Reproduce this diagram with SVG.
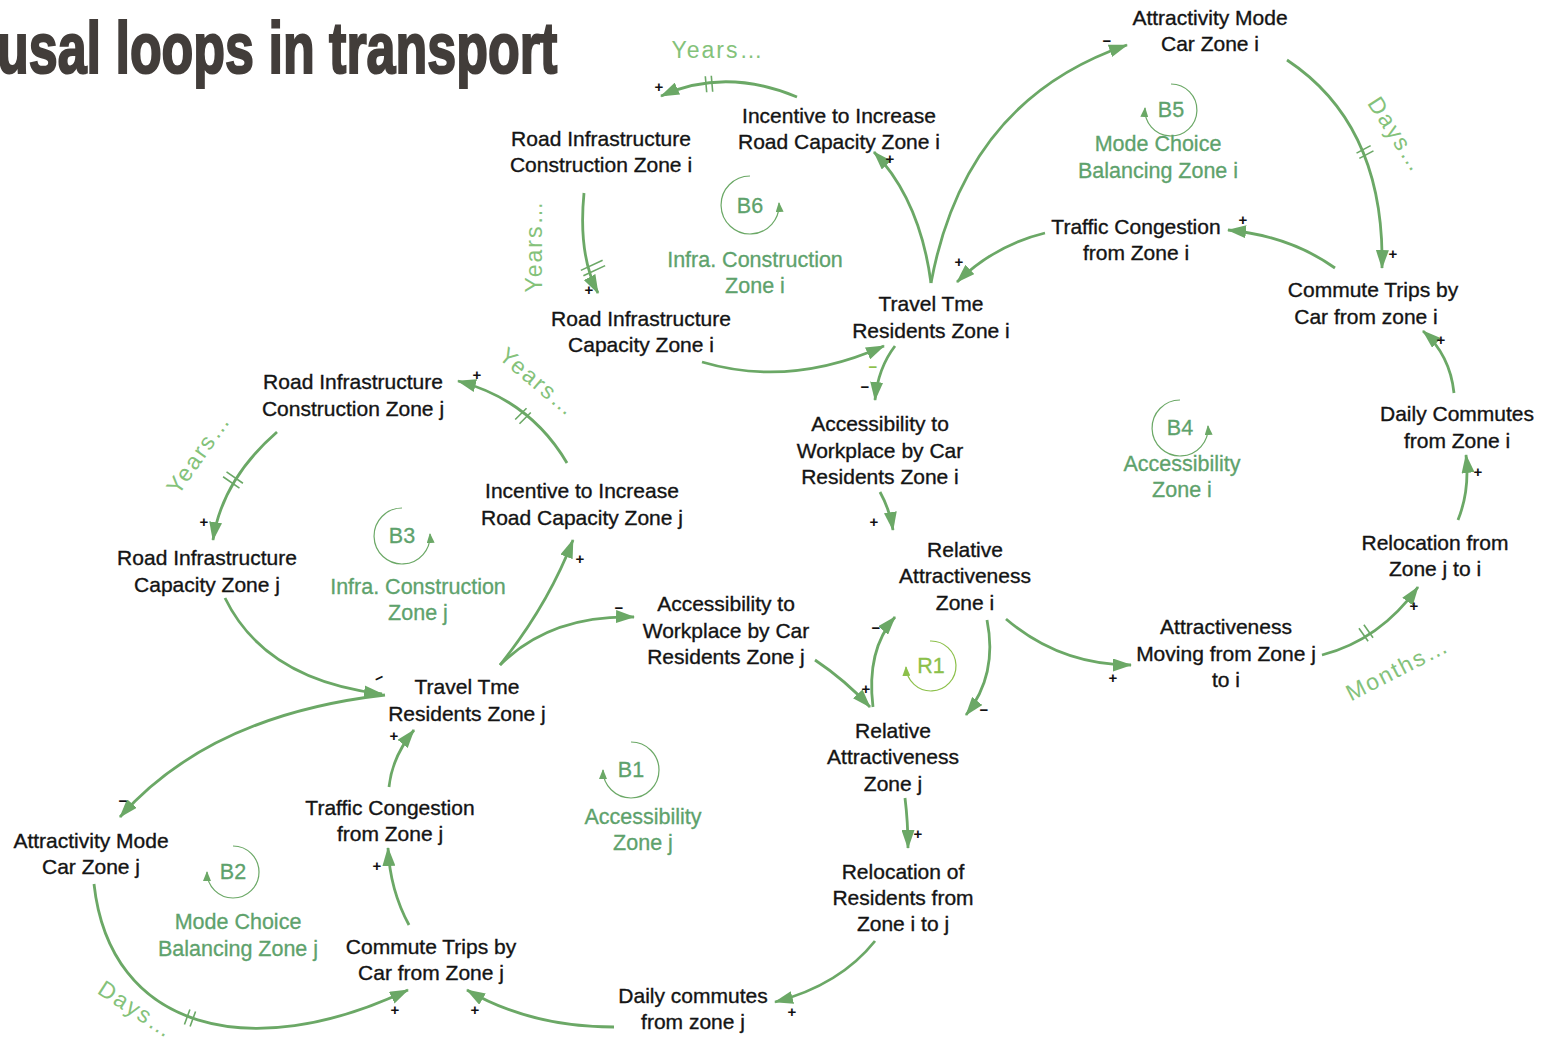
<svg xmlns="http://www.w3.org/2000/svg" width="1553" height="1046" viewBox="0 0 1553 1046">
<style>
.n{font-family:"Liberation Sans",Arial,sans-serif;font-size:21px;fill:#141414;stroke:#141414;stroke-width:0.35;text-anchor:middle}
.lp{font-family:"Liberation Sans",Arial,sans-serif;font-size:21.5px;fill:#5ea26c;stroke:#5ea26c;stroke-width:0.3;text-anchor:middle}
.dl{font-family:"Liberation Sans",Arial,sans-serif;font-size:23px;fill:#84c27a;text-anchor:middle;letter-spacing:2px}
.c path{fill:none;stroke:#6ba866;stroke-width:2.8}
.c path.m{stroke-width:1.6}
.pol{font-family:"Liberation Sans",Arial,sans-serif;font-size:15px;font-weight:bold;fill:#111;text-anchor:middle}
.loopc{fill:none;stroke:#6ba866;stroke-width:1.2}
</style>
<defs>
<marker id="ah" viewBox="0 0 19 13" refX="18" refY="6.5" markerWidth="19" markerHeight="13" markerUnits="userSpaceOnUse" orient="auto">
<path d="M0,0 L19,6.5 L0,13 z" fill="#6ba866"/>
</marker>
<marker id="la" viewBox="0 0 10 8" refX="9" refY="4" markerWidth="10" markerHeight="8" markerUnits="userSpaceOnUse" orient="auto">
<path d="M0,0 L10,4 L0,8 z" fill="#6ba866"/>
</marker>
<marker id="lr" viewBox="0 0 10 8" refX="9" refY="4" markerWidth="10" markerHeight="8" markerUnits="userSpaceOnUse" orient="auto">
<path d="M0,0 L10,4 L0,8 z" fill="#8cc04a"/>
</marker>
</defs>

<text transform="translate(-3,73) scale(0.722,1)" font-family="Liberation Sans,Arial,sans-serif" font-weight="bold" font-size="72" fill="#423d3a" stroke="#423d3a" stroke-width="2.2">usal loops in transport</text>

<g id="connectors" class="c">
<path d="M797,97 Q725,67 661,96" marker-end="url(#ah)"/>
<path d="M584,193 Q578,255 598,293" marker-end="url(#ah)"/>
<path d="M702,362 Q790,388 884,346" marker-end="url(#ah)"/>
<path d="M931,283 Q920,200 874,152" marker-end="url(#ah)"/>
<path d="M931,283 Q965,100 1127,45" marker-end="url(#ah)"/>
<path d="M1287,60 Q1385,125 1382,268" marker-end="url(#ah)"/>
<path d="M1335,268 Q1290,236 1228,230" marker-end="url(#ah)"/>
<path d="M1045,233 Q995,245 957,282" marker-end="url(#ah)"/>
<path d="M895,346 Q878,368 875,400" marker-end="url(#ah)"/>
<path d="M880,492 Q890,510 893,530" marker-end="url(#ah)"/>
<path d="M1454,393 Q1450,355 1423,331" marker-end="url(#ah)"/>
<path d="M1458,520 Q1470,490 1466,455" marker-end="url(#ah)"/>
<path d="M1322,655 Q1380,640 1418,587" marker-end="url(#ah)"/>
<path d="M1006,619 Q1060,665 1131,665" marker-end="url(#ah)"/>
<path d="M987,620 Q998,675 966,715" marker-end="url(#ah)"/>
<path d="M873,707 Q866,650 895,617" marker-end="url(#ah)"/>
<path d="M815,660 Q845,680 870,707" marker-end="url(#ah)"/>
<path d="M905,798 Q908,822 908,848" marker-end="url(#ah)"/>
<path d="M875,941 Q840,985 775,1002" marker-end="url(#ah)"/>
<path d="M614,1027 Q530,1027 467,990" marker-end="url(#ah)"/>
<path d="M94,884 C110,1030 250,1065 408,990" marker-end="url(#ah)"/>
<path d="M409,925 Q390,890 388,848" marker-end="url(#ah)"/>
<path d="M389,787 Q392,757 414,730" marker-end="url(#ah)"/>
<path d="M385,695 Q210,715 120,817" marker-end="url(#ah)"/>
<path d="M225,598 Q265,680 382,694" marker-end="url(#ah)"/>
<path d="M500,665 Q548,605 573,540" marker-end="url(#ah)"/>
<path d="M500,665 Q550,615 634,617" marker-end="url(#ah)"/>
<path d="M567,463 Q530,400 458,381" marker-end="url(#ah)"/>
<path d="M277,432 Q222,480 213,540" marker-end="url(#ah)"/>
<!-- delay marks -->
<path class="m" transform="translate(709,84) rotate(-5)" d="M-3,-8 V8 M3,-8 V8"/>
<path class="m" transform="translate(593,268) rotate(65)" d="M-3,-12 V12 M3,-12 V12"/>
<path class="m" transform="translate(1365,152) rotate(62)" d="M-3,-8 V8 M3,-8 V8"/>
<path class="m" transform="translate(1366,633) rotate(-35)" d="M-3,-8 V8 M3,-8 V8"/>
<path class="m" transform="translate(523,416) rotate(45)" d="M-3,-8 V8 M3,-8 V8"/>
<path class="m" transform="translate(233,480) rotate(125)" d="M-3,-10 V10 M3,-10 V10"/>
<path class="m" transform="translate(190,1018) rotate(20)" d="M-3,-8 V8 M3,-8 V8"/>
</g>

<g id="polarities">
<text class="pol" x="659" y="92">+</text>
<text class="pol" x="589" y="295">+</text>
<text class="pol" x="890" y="164">+</text>
<text class="pol" x="1107" y="46">−</text>
<text class="pol" x="1393" y="259">+</text>
<text class="pol" x="1243" y="225">+</text>
<text class="pol" x="959" y="267">+</text>
<text class="pol" x="865" y="392">−</text>
<text class="pol" x="873" y="372" style="fill:#8cc04a">−</text>
<text class="pol" x="874" y="527">+</text>
<text class="pol" x="1441" y="345">+</text>
<text class="pol" x="1478" y="477">+</text>
<text class="pol" x="1414" y="611">+</text>
<text class="pol" x="1113" y="683">+</text>
<text class="pol" x="984" y="715">−</text>
<text class="pol" x="876" y="633">−</text>
<text class="pol" x="866" y="694">+</text>
<text class="pol" x="918" y="839">+</text>
<text class="pol" x="792" y="1017">+</text>
<text class="pol" x="475" y="1015">+</text>
<text class="pol" x="395" y="1015">+</text>
<text class="pol" x="377" y="871">+</text>
<text class="pol" x="394" y="741">+</text>
<text class="pol" x="123" y="806">−</text>
<text class="pol" x="379" y="683" transform="rotate(-25 379 678)">−</text>
<text class="pol" x="580" y="564">+</text>
<text class="pol" x="619" y="613">−</text>
<text class="pol" x="477" y="380">+</text>
<text class="pol" x="204" y="527">+</text>
</g>

<g id="delays">
<text class="dl" x="718" y="58">Years…</text>
<text class="dl" transform="translate(542,246) rotate(-90)">Years…</text>
<text class="dl" transform="translate(533,388) rotate(40)">Years…</text>
<text class="dl" transform="translate(205,458) rotate(-55)">Years…</text>
<text class="dl" transform="translate(1390,139) rotate(57)">Days…</text>
<text class="dl" transform="translate(132,1016) rotate(33)">Days…</text>
<text class="dl" transform="translate(1401,676) rotate(-27)">Months…</text>
</g>

<g id="loop-B6">
<path class="loopc" d="M750,176 A29,29 0 1,0 779,203" marker-end="url(#la)"/>
<text class="lp" x="750" y="213">B6</text>
<text class="lp" x="755" y="267">Infra. Construction</text>
<text class="lp" x="755" y="293">Zone i</text>
</g>
<g id="loop-B5">
<path class="loopc" d="M1171,84 A26,26 0 1,1 1145,108" marker-end="url(#la)"/>
<text class="lp" x="1171" y="117">B5</text>
<text class="lp" x="1158" y="151">Mode Choice</text>
<text class="lp" x="1158" y="178">Balancing Zone i</text>
</g>
<g id="loop-B4">
<path class="loopc" d="M1180,400 A28,28 0 1,0 1208,426" marker-end="url(#la)"/>
<text class="lp" x="1180" y="435">B4</text>
<text class="lp" x="1182" y="471">Accessibility</text>
<text class="lp" x="1182" y="497">Zone i</text>
</g>
<g id="loop-B3">
<path class="loopc" d="M402,508 A28,28 0 1,0 430,534" marker-end="url(#la)"/>
<text class="lp" x="402" y="543">B3</text>
<text class="lp" x="418" y="594">Infra. Construction</text>
<text class="lp" x="418" y="620">Zone j</text>
</g>
<g id="loop-R1">
<path d="M930,641 A25,25 0 1,1 906,667" fill="none" stroke="#8cc04a" stroke-width="1.2" marker-end="url(#lr)"/>
<text class="lp" x="931" y="673" style="fill:#8cc04a;stroke:#8cc04a">R1</text>
</g>
<g id="loop-B1">
<path class="loopc" d="M631,742 A28,28 0 1,1 603,770" marker-end="url(#la)"/>
<text class="lp" x="631" y="777">B1</text>
<text class="lp" x="643" y="824">Accessibility</text>
<text class="lp" x="643" y="850">Zone j</text>
</g>
<g id="loop-B2">
<path class="loopc" d="M233,846 A26,26 0 1,1 207,872" marker-end="url(#la)"/>
<text class="lp" x="233" y="879">B2</text>
<text class="lp" x="238" y="929">Mode Choice</text>
<text class="lp" x="238" y="956">Balancing Zone j</text>
</g>

<g id="n-road-constr-i"><text class="n" x="601" y="146">Road Infrastructure</text><text class="n" x="601" y="172">Construction Zone i</text></g>
<g id="n-incentive-i"><text class="n" x="839" y="123">Incentive to Increase</text><text class="n" x="839" y="149">Road Capacity Zone i</text></g>
<g id="n-attr-mode-i"><text class="n" x="1210" y="25">Attractivity Mode</text><text class="n" x="1210" y="51">Car Zone i</text></g>
<g id="n-congestion-i"><text class="n" x="1136" y="234">Traffic Congestion</text><text class="n" x="1136" y="260">from Zone i</text></g>
<g id="n-commute-i"><text class="n" x="1373" y="297">Commute Trips by</text><text class="n" x="1366" y="324">Car from zone i</text></g>
<g id="n-travel-i"><text class="n" x="931" y="311">Travel Tme</text><text class="n" x="931" y="338">Residents Zone i</text></g>
<g id="n-road-cap-i"><text class="n" x="641" y="326">Road Infrastructure</text><text class="n" x="641" y="352">Capacity Zone i</text></g>
<g id="n-access-i"><text class="n" x="880" y="431">Accessibility to</text><text class="n" x="880" y="458">Workplace by Car</text><text class="n" x="880" y="484">Residents Zone i</text></g>
<g id="n-daily-i"><text class="n" x="1457" y="421">Daily Commutes</text><text class="n" x="1457" y="448">from Zone i</text></g>
<g id="n-reloc-ji"><text class="n" x="1435" y="550">Relocation from</text><text class="n" x="1435" y="576">Zone j to i</text></g>
<g id="n-rel-attr-i"><text class="n" x="965" y="557">Relative</text><text class="n" x="965" y="583">Attractiveness</text><text class="n" x="965" y="610">Zone i</text></g>
<g id="n-attr-moving"><text class="n" x="1226" y="634">Attractiveness</text><text class="n" x="1226" y="661">Moving from Zone j</text><text class="n" x="1226" y="687">to i</text></g>
<g id="n-road-constr-j"><text class="n" x="353" y="389">Road Infrastructure</text><text class="n" x="353" y="416">Construction Zone j</text></g>
<g id="n-incentive-j"><text class="n" x="582" y="498">Incentive to Increase</text><text class="n" x="582" y="525">Road Capacity Zone j</text></g>
<g id="n-road-cap-j"><text class="n" x="207" y="565">Road Infrastructure</text><text class="n" x="207" y="592">Capacity Zone j</text></g>
<g id="n-access-j"><text class="n" x="726" y="611">Accessibility to</text><text class="n" x="726" y="638">Workplace by Car</text><text class="n" x="726" y="664">Residents Zone j</text></g>
<g id="n-travel-j"><text class="n" x="467" y="694">Travel Tme</text><text class="n" x="467" y="721">Residents Zone j</text></g>
<g id="n-rel-attr-j"><text class="n" x="893" y="738">Relative</text><text class="n" x="893" y="764">Attractiveness</text><text class="n" x="893" y="791">Zone j</text></g>
<g id="n-congestion-j"><text class="n" x="390" y="815">Traffic Congestion</text><text class="n" x="390" y="841">from Zone j</text></g>
<g id="n-attr-mode-j"><text class="n" x="91" y="848">Attractivity Mode</text><text class="n" x="91" y="874">Car Zone j</text></g>
<g id="n-commute-j"><text class="n" x="431" y="954">Commute Trips by</text><text class="n" x="431" y="980">Car from Zone j</text></g>
<g id="n-reloc-ij"><text class="n" x="903" y="879">Relocation of</text><text class="n" x="903" y="905">Residents from</text><text class="n" x="903" y="931">Zone i to j</text></g>
<g id="n-daily-j"><text class="n" x="693" y="1003">Daily commutes</text><text class="n" x="693" y="1029">from zone j</text></g>
</svg>
